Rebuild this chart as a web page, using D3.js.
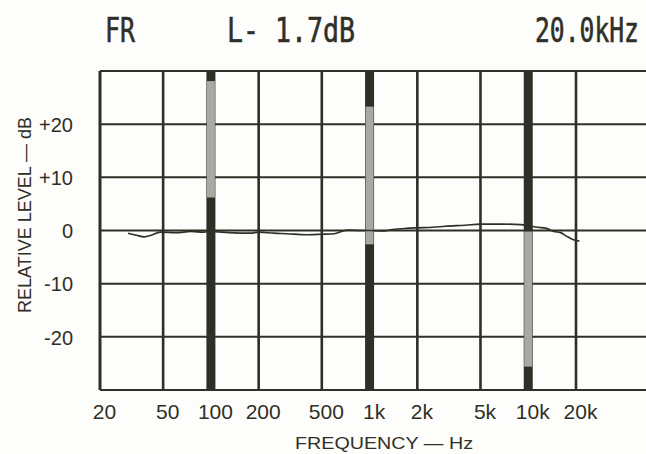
<!DOCTYPE html>
<html><head><meta charset="utf-8">
<script src="https://cdn.jsdelivr.net/npm/d3@7"></script>
<style>html,body{margin:0;padding:0;background:#fdfdfb;}svg{display:block;}</style>
</head><body>
<script>
// ---- data ----
const freqTicks = [20, 50, 100, 200, 500, 1000, 2000, 5000, 10000, 20000];
const freqTickLabels = ["20", "50", "100", "200", "500", "1k", "2k", "5k", "10k", "20k"];
const dbTicks = [20, 10, 0, -10, -20];
const dbTickLabels = ["+20", "+10", "0", "-10", "-20"];
const respFreq = [30, 34, 38, 42, 48, 60, 75, 90, 100, 130, 177, 200, 250, 300, 400, 500, 600, 730, 870, 1000, 1200, 1400, 1700, 2000, 2500, 3000, 4000, 5000, 7000, 9000, 10000, 11500, 13000, 14500, 16000, 17500, 19500, 21000];
const respDb = [-0.5, -0.9, -1.2, -0.9, -0.3, -0.4, -0.2, -0.3, -0.2, -0.4, -0.5, -0.3, -0.5, -0.6, -0.8, -0.7, -0.6, 0.1, 0.0, 0.0, -0.1, 0.2, 0.4, 0.5, 0.6, 0.8, 1.0, 1.2, 1.2, 1.1, 0.9, 0.6, 0.4, -0.2, -0.4, -1.1, -1.8, -2.0];
const markerFreq = [100, 1000, 10000];
const markerLow = [6.2, -2.6, -25.6];
const markerHigh = [28.1, 23.3, -0.2];
const headerTexts = ["FR", "L- 1.7dB", "20.0kHz"];

const W = 646, H = 454;
const ink = "#2f2f27";
const svg = d3.select("body").append("svg").attr("width", W).attr("height", H);
svg.append("rect").attr("width", W).attr("height", H).attr("fill", "#fdfdfb");

const x = d3.scaleLog().domain([20, 20000]).range([100, 576]);
const y = d3.scaleLinear().domain([-30, 30]).range([390, 71]);
const xRight = W;

// horizontal grid lines (including top & bottom border)
const hLines = [-30, -20, -10, 0, 10, 20, 30];
svg.append("g").selectAll("line").data(hLines).join("line")
  .attr("x1", x(20)).attr("x2", xRight)
  .attr("y1", d => y(d)).attr("y2", d => y(d))
  .attr("stroke", ink).attr("stroke-width", 2);

// vertical grid lines
svg.append("g").selectAll("line").data(freqTicks).join("line")
  .attr("x1", d => x(d)).attr("x2", d => x(d))
  .attr("y1", y(30)).attr("y2", y(-30))
  .attr("stroke", ink).attr("stroke-width", (d, i) => i === 0 ? 3 : 2.6);

// marker bars
const mk = svg.append("g");
markerFreq.forEach((f, i) => {
  mk.append("rect").attr("x", x(f) - 4.5).attr("width", 9)
    .attr("y", y(30)).attr("height", y(-30) - y(30)).attr("fill", ink);
  mk.append("rect").attr("x", x(f) - 4).attr("width", 8)
    .attr("y", y(markerHigh[i])).attr("height", y(markerLow[i]) - y(markerHigh[i]))
    .attr("fill", "#a9a9a3");
});

// response curve
const line = d3.line().x((d, i) => x(respFreq[i])).y(d => y(d)).curve(d3.curveMonotoneX);
svg.append("path").datum(respDb).attr("d", line)
  .attr("fill", "none").attr("stroke", ink).attr("stroke-width", 1.6);

// axes labels
const axisFont = "'Liberation Sans', Arial, sans-serif";
const xAxis = d3.axisBottom(x).tickValues(freqTicks).tickSize(0)
  .tickFormat((d, i) => freqTickLabels[i]);
const gx = svg.append("g").attr("transform", `translate(0,${y(-30)})`).call(xAxis);
gx.select(".domain").remove();
gx.selectAll("text").attr("dy", 0).attr("y", 29).attr("dx", 4)
  .attr("font-family", axisFont).attr("font-size", 21).attr("fill", ink);

const yAxis = d3.axisLeft(y).tickValues(dbTicks).tickSize(0)
  .tickFormat((d, i) => dbTickLabels[i]);
const gy = svg.append("g").attr("transform", `translate(73,0)`).call(yAxis);
gy.select(".domain").remove();
gy.selectAll("text").attr("x", 0).attr("dy", "0.36em")
  .attr("font-family", axisFont).attr("font-size", 20).attr("fill", ink);

// axis titles
svg.append("text").attr("transform", "translate(31,215) rotate(-90)")
  .attr("text-anchor", "middle").attr("font-family", axisFont).attr("font-size", 18.5)
  .attr("fill", ink).attr("textLength", 196).attr("lengthAdjust", "spacingAndGlyphs")
  .text("RELATIVE LEVEL — dB");
svg.append("text").attr("x", 384).attr("y", 449)
  .attr("text-anchor", "middle").attr("font-family", axisFont).attr("font-size", 17)
  .attr("fill", ink).attr("textLength", 178).attr("lengthAdjust", "spacingAndGlyphs")
  .text("FREQUENCY — Hz");

// header (condensed with a horizontal scale)
const hdrX = [105, 227, 535];
const hdrW = [30, 128, 104];
svg.append("g").selectAll("text").data(headerTexts).join("text")
  .attr("x", 0).attr("y", 0)
  .attr("font-family", "'DejaVu Sans Mono', monospace").attr("font-size", 34)
  .attr("fill", ink).attr("stroke", ink).attr("stroke-width", 0.6)
  .text(d => d)
  .each(function (d, i) {
    const nat = this.getComputedTextLength();
    const sx = hdrW[i] / nat;
    d3.select(this).attr("transform", `translate(${hdrX[i]},42) scale(${sx},1)`);
  });
</script>
</body></html>
